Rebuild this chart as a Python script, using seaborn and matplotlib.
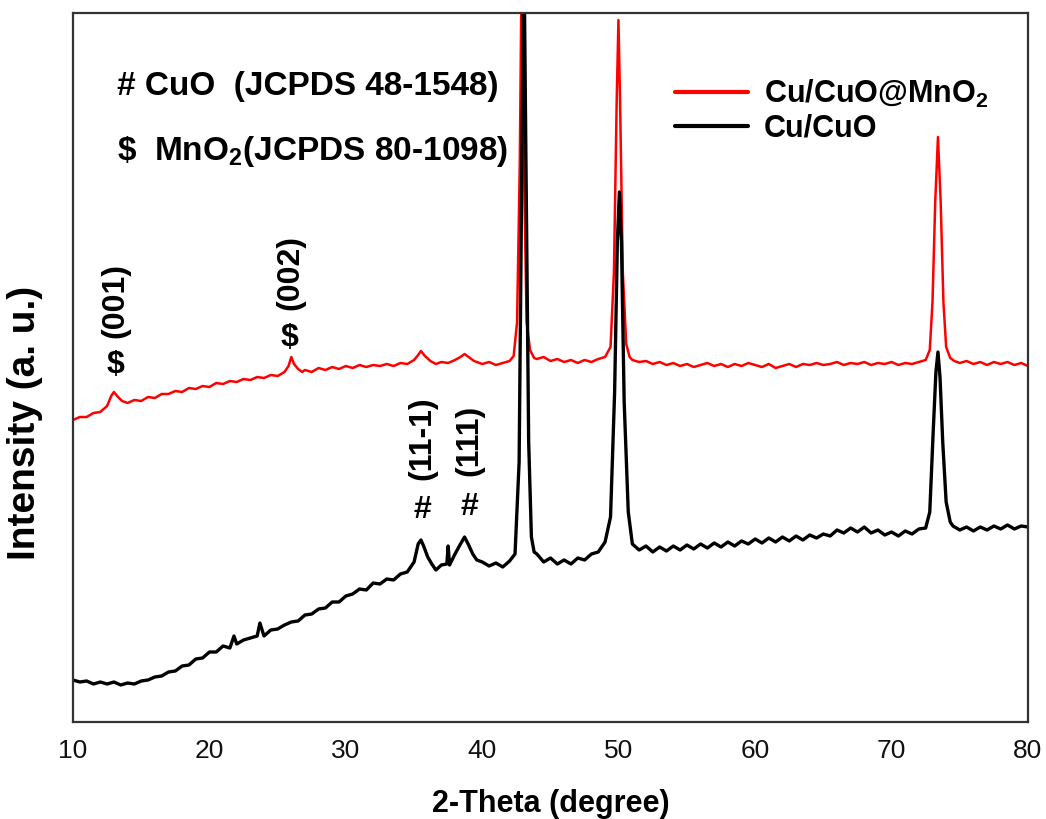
import matplotlib
matplotlib.use("Agg")
import numpy as np
import pandas as pd
import matplotlib.pyplot as plt
from matplotlib.ticker import MultipleLocator
import seaborn as sns

# XRD patterns: (2-theta in degree, intensity in a.u.)
cuo_mno2 = [
    (10, 302), (10.5, 305), (11, 305), (11.5, 309), (12, 310), (12.5, 316), (12.8, 326),
    (13.0, 330), (13.3, 325), (13.6, 321), (14, 319), (14.5, 322), (15, 321), (15.5, 325),
    (16, 324), (16.5, 328), (17, 328), (17.5, 331), (18, 330), (18.5, 334), (19, 333),
    (19.5, 336), (20, 335), (20.5, 339), (21, 338), (21.5, 341), (22, 340), (22.5, 343),
    (23, 342), (23.5, 345), (24, 344), (24.5, 347), (25, 346), (25.5, 350), (25.8, 356),
    (26.0, 365), (26.2, 358), (26.5, 353), (26.8, 350), (27, 352), (27.5, 350), (28, 354),
    (28.5, 352), (29, 355), (29.5, 353), (30, 356), (30.5, 354), (31, 357), (31.5, 355),
    (32, 357), (32.5, 356), (33, 358), (33.5, 356), (34, 359), (34.5, 358), (35, 362),
    (35.3, 367), (35.5, 371), (35.8, 366), (36.2, 361), (36.6, 358), (37, 360), (37.5, 359),
    (38, 362), (38.4, 365), (38.7, 368), (39, 365), (39.4, 361), (40, 358), (40.5, 360),
    (41, 357), (41.5, 359), (42, 361), (42.3, 366), (42.55, 400), (42.75, 560), (42.9, 780),
    (43.05, 560), (43.25, 400), (43.5, 372), (43.8, 364), (44, 363), (44.5, 365), (45, 361),
    (45.5, 363), (46, 360), (46.5, 362), (47, 359), (47.5, 362), (48, 360), (48.5, 363),
    (49, 365), (49.4, 375), (49.65, 450), (49.85, 620), (49.98, 702), (50.1, 620), (50.3, 450),
    (50.55, 378), (50.8, 365), (51, 362), (51.5, 360), (52, 361), (52.5, 358), (53, 360),
    (53.5, 357), (54, 359), (54.5, 356), (55, 358), (55.5, 355), (56, 357), (56.5, 359),
    (57, 356), (57.5, 358), (58, 355), (58.5, 358), (59, 356), (59.5, 359), (60, 357),
    (60.5, 355), (61, 358), (61.5, 354), (62, 356), (62.5, 358), (63, 355), (63.5, 358),
    (64, 357), (64.5, 359), (65, 357), (65.5, 358), (66, 360), (66.5, 357), (67, 359),
    (67.5, 358), (68, 360), (68.5, 357), (69, 359), (69.5, 358), (70, 360), (70.5, 357),
    (71, 359), (71.5, 358), (72, 360), (72.5, 362), (72.8, 372), (73.0, 420), (73.2, 520),
    (73.4, 585), (73.6, 520), (73.8, 420), (74.0, 375), (74.3, 364), (74.6, 361), (75, 359),
    (75.5, 361), (76, 358), (76.5, 360), (77, 357), (77.5, 360), (78, 358), (78.5, 360),
    (79, 357), (79.5, 359), (80, 356),
]

cuo = [
    (10, 42), (10.5, 40), (11, 41), (11.5, 38), (12, 40), (12.5, 38), (13, 40), (13.5, 37),
    (14, 39), (14.5, 38), (15, 41), (15.5, 42), (16, 45), (16.5, 46), (17, 50), (17.5, 51),
    (18, 56), (18.5, 57), (19, 63), (19.5, 64), (20, 70), (20.5, 70), (21, 76), (21.5, 74),
    (21.8, 86), (22, 78), (22.5, 82), (23, 84), (23.5, 86), (23.7, 99), (24, 86), (24.5, 92),
    (25, 93), (25.5, 97), (26, 100), (26.5, 101), (27, 107), (27.5, 108), (28, 113),
    (28.5, 114), (29, 120), (29.5, 120), (30, 126), (30.5, 128), (31, 133), (31.5, 132),
    (32, 139), (32.5, 138), (33, 143), (33.5, 142), (34, 148), (34.5, 150), (35, 160),
    (35.3, 178), (35.5, 182), (35.7, 176), (36, 165), (36.3, 158), (36.6, 152), (37, 157),
    (37.4, 158), (37.5, 176), (37.6, 157), (38, 168), (38.4, 178), (38.7, 185), (39, 177),
    (39.3, 168), (39.6, 162), (40, 160), (40.5, 156), (41, 159), (41.5, 155), (42, 161),
    (42.4, 168), (42.7, 260), (42.9, 560), (43.05, 780), (43.2, 560), (43.4, 280), (43.6, 185),
    (43.8, 170), (44, 168), (44.5, 160), (45, 164), (45.5, 158), (46, 162), (46.5, 158),
    (47, 164), (47.5, 162), (48, 168), (48.5, 170), (49, 180), (49.4, 205), (49.7, 330),
    (49.9, 480), (50.05, 530), (50.2, 480), (50.4, 320), (50.7, 210), (51, 178), (51.5, 172),
    (52, 176), (52.5, 170), (53, 175), (53.5, 171), (54, 176), (54.5, 172), (55, 177),
    (55.5, 173), (56, 178), (56.5, 174), (57, 179), (57.5, 175), (58, 180), (58.5, 176),
    (59, 181), (59.5, 178), (60, 183), (60.5, 179), (61, 184), (61.5, 180), (62, 185),
    (62.5, 181), (63, 186), (63.5, 182), (64, 187), (64.5, 184), (65, 188), (65.5, 186),
    (66, 192), (66.5, 189), (67, 194), (67.5, 190), (68, 195), (68.5, 189), (69, 192),
    (69.5, 187), (70, 190), (70.5, 186), (71, 191), (71.5, 188), (72, 193), (72.5, 194),
    (72.8, 210), (73.05, 290), (73.25, 350), (73.4, 370), (73.55, 345), (73.75, 280),
    (74.0, 220), (74.3, 200), (74.5, 196), (75, 192), (75.5, 195), (76, 191), (76.5, 195),
    (77, 192), (77.5, 196), (78, 193), (78.5, 197), (79, 193), (79.5, 196), (80, 195),
]

series_labels = ["Cu/CuO@MnO$_\\mathbf{2}$", "Cu/CuO"]
series_colors = ["#ff0000", "#000000"]

# peak markers: (2-theta, y of symbol, symbol, y of hkl, hkl)
peak_marks = [
    (13.1, 357, "\\$", 421, "(001)"),
    (25.9, 384, "\\$", 450, "(002)"),
    (35.6, 212, "#", 284, "(11-1)"),
    (39.05, 215, "#", 282, "(111)"),
]

sns.set_style("white")
plt.rcParams["font.family"] = ["Liberation Sans", "DejaVu Sans"]
plt.rcParams["mathtext.fontset"] = "custom"
plt.rcParams["mathtext.rm"] = "Liberation Sans"
plt.rcParams["mathtext.bf"] = "Liberation Sans:bold"
plt.rcParams["text.color"] = "black"
plt.rcParams["axes.labelcolor"] = "black"

fig = plt.figure(figsize=(10.46, 8.19), dpi=100)
ax = fig.add_axes([73 / 1046, 1 - 722 / 819, 955 / 1046, 709 / 819])

df_red = pd.DataFrame(cuo_mno2, columns=["two_theta", "intensity"])
df_black = pd.DataFrame(cuo, columns=["two_theta", "intensity"])

sns.lineplot(data=df_red, x="two_theta", y="intensity", color=series_colors[0],
             lw=1.8, estimator=None, sort=False, label=series_labels[0], ax=ax)
sns.lineplot(data=df_black, x="two_theta", y="intensity", color=series_colors[1],
             lw=2.4, estimator=None, sort=False, label=series_labels[1], ax=ax)

ax.set_xlim(10, 80)
ax.set_ylim(0, 709)
ax.set_yticks([])
ax.xaxis.set_major_locator(MultipleLocator(10))
ax.xaxis.set_minor_locator(MultipleLocator(5))
ax.tick_params(axis="x", which="major", direction="in", length=9.5, width=1.4,
               labelsize=19, pad=12, colors="#333333", labelcolor="#111111")
ax.tick_params(axis="x", which="minor", direction="in", length=5, width=1.4, colors="#333333")
for sp in ax.spines.values():
    sp.set_color("#333333")
    sp.set_linewidth(1.6)

ax.set_xlabel("2-Theta (degree)", fontsize=22, fontweight="bold")
ax.set_ylabel("Intensity (a. u.)", fontsize=28, fontweight="bold")
ax.xaxis.set_label_coords(0.5, -0.094)
ax.yaxis.set_label_coords(-0.031, 0.4217)

# phase reference
ax.text(13.2, 627, "# CuO  (JCPDS 48-1548)", fontsize=24, fontweight="bold", va="baseline")
ax.text(13.2, 562, "\\$  MnO$_\\mathbf{2}$(JCPDS 80-1098)", fontsize=24, fontweight="bold",
        va="baseline")

for x, y_sym, sym, y_hkl, hkl in peak_marks:
    ax.text(x, y_sym, sym, fontsize=23, fontweight="bold", ha="center", va="center")
    ax.text(x, y_hkl, hkl, fontsize=23, fontweight="bold", ha="center", va="center",
            rotation=90)

handles, labels = ax.get_legend_handles_labels()
ax.legend(handles, labels, loc="upper left", bbox_to_anchor=(675 / 1046, 1 - 78 / 819),
          bbox_transform=fig.transFigure, frameon=False, borderpad=0, borderaxespad=0,
          handlelength=2.4, handletextpad=0.5, labelspacing=0.12,
          prop={"size": 22, "weight": "bold"})
for line in ax.get_legend().get_lines():
    line.set_linewidth(3)

fig.savefig("out.png", dpi=100)
